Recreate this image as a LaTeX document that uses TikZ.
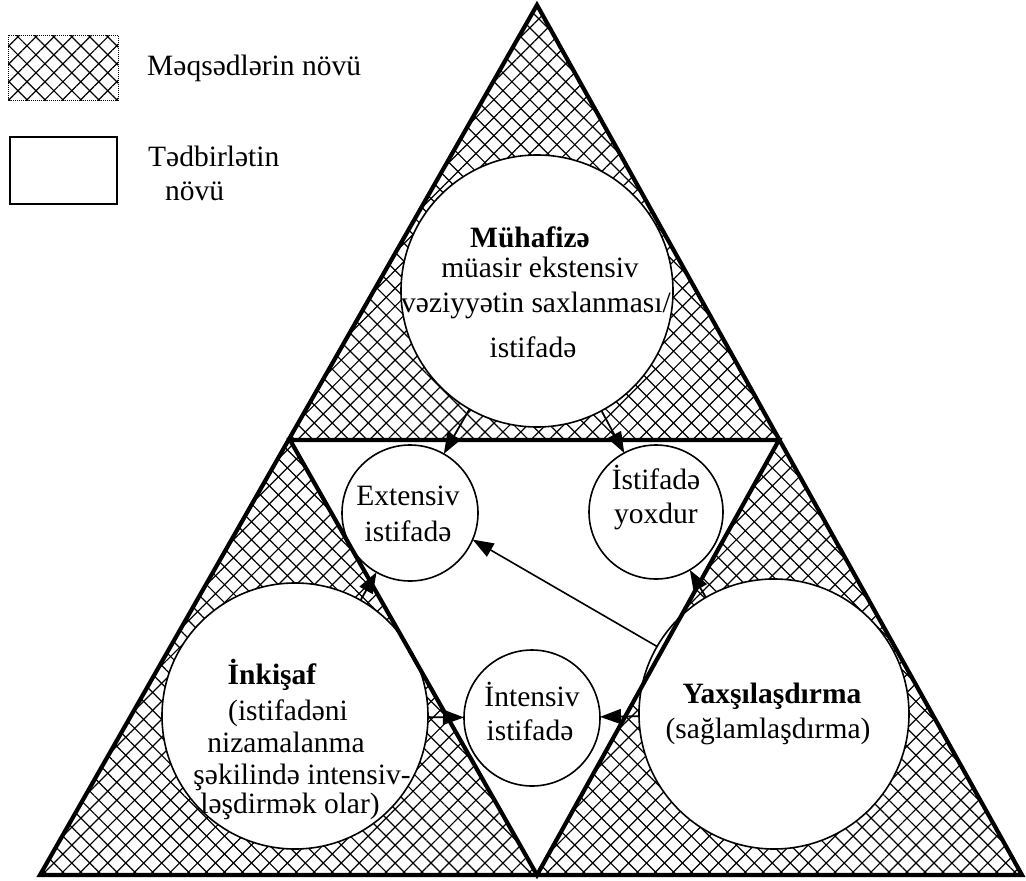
\documentclass[tikz,border=0pt]{standalone}
\usepackage{fontspec}
\setmainfont{Liberation Serif}
\usetikzlibrary{patterns.meta,arrows.meta}

\begin{document}
\begin{tikzpicture}[x=1pt,y=-1pt,
  hatchA/.style={pattern={Lines[angle=45,distance=12.7pt,line width=1.2pt]}},
  hatchB/.style={pattern={Lines[angle=-45,distance=12.7pt,line width=1.2pt]}},
  disc/.style={circle,draw,line width=1.6pt,fill=white,inner sep=0pt,outer sep=0pt},
  rim/.style={line width=4.2pt,line join=miter},
  arr/.style={line width=1.8pt,-{Triangle[length=21pt,width=15pt]}},
  txt/.style={anchor=base,inner sep=0pt,font=\fontsize{29.5}{35}\selectfont},
  btxt/.style={anchor=base,inner sep=0pt,font=\fontsize{29.5}{35}\selectfont\bfseries},
  keytxt/.style={anchor=base west,inner sep=0pt,font=\fontsize{29.5}{35}\selectfont}
]
\useasboundingbox (0,0) rectangle (1026,881);

% corners of the big triangle and of the inner one
\coordinate (A) at (537,5);
\coordinate (L) at (40,875);
\coordinate (R) at (1022,875);
\coordinate (ML) at (290,440);
\coordinate (MR) at (779,440);
\coordinate (MB) at (537,875);

% hatched corner triangles, white middle triangle
\fill[hatchA] (A) -- (L) -- (R) -- cycle;
\fill[hatchB] (A) -- (L) -- (R) -- cycle;
\fill[white] (ML) -- (MR) -- (MB) -- cycle;

% circles
\node[disc,minimum size=272pt] (muh) at (537,291) {};
\node[disc,minimum size=266pt] (ink) at (295,716) {};
\node[disc,minimum size=270pt] (yax) at (774,714) {};
\node[disc,minimum size=136pt] (ext) at (410,513) {};
\node[disc,minimum size=134pt] (ist) at (656,512) {};
\node[disc,minimum size=136pt] (int) at (532,718) {};

% triangle outlines
\draw[rim] (A) -- (L) -- (R) -- cycle;
\draw[rim] (ML) -- (MR) -- (MB) -- cycle;

% arrows
\draw[arr] (muh) -- (ext);
\draw[arr] (muh) -- (ist);
\draw[arr] (ink) -- (ext);
\draw[arr] (yax) -- (ist);
\draw[arr] (ink) -- (int);
\draw[arr] (yax) -- (int);
\draw[arr,line width=1.6pt] (yax.150) -- (ext.337);

% circle texts
\node[btxt] (t1) at (530,247) {Mühafizə};
\node[txt] (t2) at (540,277) {müasir ekstensiv};
\node[txt] (t3) at (536,312) {vəziyyətin saxlanması/};
\node[txt] (t4) at (533,357) {istifadə};

\node[txt] (e1) at (408,505) {Extensiv};
\node[txt] (e2) at (408,541) {istifadə};

\node[txt] (s1) at (656,489) {İstifadə};
\node[txt] (s2) at (656,523) {yoxdur};

\node[txt] (n1) at (532,706) {İntensiv};
\node[txt] (n2) at (530,740) {istifadə};

\node[btxt] (k1) at (272,684) {İnkişaf};
\node[txt] (k2) at (288,720) {(istifadəni};
\node[txt] (k3) at (286,752) {nizamalanma};
\node[txt] (k4) at (302,784) {şəkilində intensiv-};
\node[txt] (k5) at (290,813) {ləşdirmək olar)};

\node[btxt] (y1) at (772,703) {Yaxşılaşdırma};
\node[txt] (y2) at (768,738) {(sağlamlaşdırma)};

% key
\fill[hatchA] (8,35) rectangle (118,100);
\fill[hatchB] (8,35) rectangle (118,100);
\draw[line width=1pt,densely dotted] (8,35) rectangle (118,100);
\draw[line width=1.2pt] (10,137) rectangle (117,204);
\node[keytxt] (g1) at (147,75) {Məqsədlərin növü};
\node[keytxt] (g2) at (148,166) {Tədbirlətin};
\node[keytxt] (g3) at (165,200) {növü};
\end{tikzpicture}
\end{document}
